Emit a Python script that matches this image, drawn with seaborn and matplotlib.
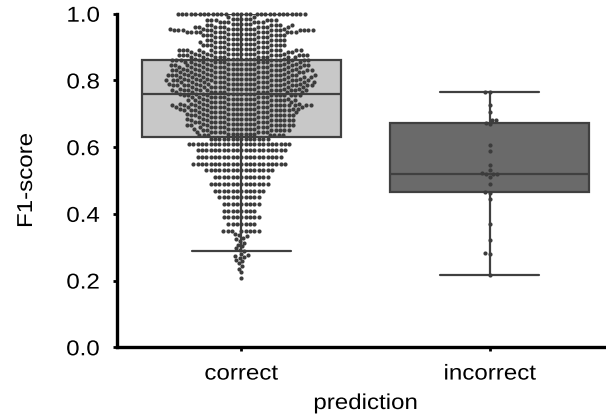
import numpy as np
import pandas as pd
import matplotlib
matplotlib.use("Agg")
import matplotlib.pyplot as plt
from matplotlib.ticker import FormatStrFormatter
from matplotlib.patheffects import AbstractPathEffect
from matplotlib.transforms import Affine2D
import seaborn as sns

# Prediction outcome groups
categories = ["correct", "incorrect"]

# Sparse low tail of the correctly predicted items' F1-scores
correct_tail_f1 = [
    0.207, 0.226, 0.236, 0.244, 0.252, 0.258, 0.262, 0.268, 0.271, 0.274,
    0.278, 0.280, 0.288, 0.292, 0.297, 0.303, 0.308, 0.314, 0.319, 0.324,
    0.329, 0.333, 0.337, 0.341,
]

# Lower body of the correct group: recurring F1 values and how often each occurs
correct_low_levels = [
    0.35, 0.37, 0.39, 0.41, 0.43, 0.45, 0.47, 0.49,
    0.51, 0.53, 0.55, 0.57, 0.59, 0.61, 0.625,
]
correct_low_counts = [
    8, 7, 9, 8, 9, 10, 12, 14,
    13, 16, 22, 20, 21, 24, 14,
]

# Upper body of the correct group: F1 level and number of items at it
correct_f1_levels = [
    0.635, 0.640,
    0.645, 0.650, 0.655, 0.660, 0.665, 0.670, 0.675, 0.680, 0.685, 0.690,
    0.695, 0.700, 0.705, 0.710, 0.715, 0.720, 0.725, 0.730, 0.735, 0.740,
    0.745, 0.750, 0.755, 0.760, 0.765, 0.770, 0.775, 0.780, 0.785, 0.790,
    0.795, 0.800, 0.805, 0.810, 0.815, 0.820, 0.825, 0.830, 0.835, 0.840,
    0.845, 0.850, 0.855, 0.860, 0.865, 0.870, 0.875, 0.880, 0.885, 0.890,
    0.895, 0.900, 0.905, 0.910, 0.915, 0.920, 0.925, 0.930, 0.935, 0.940,
    0.945, 0.950, 0.955, 0.960, 0.965, 0.970, 0.975, 0.980, 0.985, 0.990,
    1.000,
]
correct_counts = [
    7, 7,
    8, 7, 8, 8, 9, 8, 9, 8, 9, 8,
    9, 9, 9, 9, 11, 11, 12, 11, 9, 8,
    9, 9, 10, 10, 11, 11, 11, 11, 12, 12,
    12, 12, 12, 12, 12, 11, 12, 11, 12, 11,
    11, 11, 11, 11, 10, 10, 11, 10, 10, 10,
    7, 6, 7, 7, 7, 6, 7, 6, 7, 7,
    13, 12, 10, 9, 6, 5, 6, 6, 5, 2,
    29,
]

# F1-scores of incorrectly predicted items
incorrect_f1 = [
    0.766, 0.764, 0.727, 0.706, 0.680, 0.680, 0.672, 0.669, 0.606, 0.589,
    0.547, 0.532, 0.521, 0.520, 0.519, 0.518, 0.511, 0.490, 0.466, 0.464,
    0.445, 0.369, 0.321, 0.283, 0.281, 0.217,
]

box_colors = ["#c8c8c8", "#6a6a6a"]


class WideText(AbstractPathEffect):
    """Draw text glyphs widened along the baseline about a chosen anchor."""

    def __init__(self, factor, anchor="center"):
        super().__init__()
        self.factor = factor
        self.anchor = anchor

    def draw_path(self, renderer, gc, tpath, affine, rgbFace=None):
        ext = tpath.get_extents()
        if self.anchor == "right":
            cx = ext.x1
        elif self.anchor == "left":
            cx = ext.x0
        else:
            cx = 0.5 * (ext.x0 + ext.x1)
        widen = Affine2D().translate(-cx, 0).scale(self.factor, 1).translate(cx, 0)
        renderer.draw_path(gc, tpath, widen + affine, rgbFace)


sns.set_theme(style="ticks")
plt.rcParams["font.family"] = ["Liberation Sans", "DejaVu Sans"]

correct_values = np.concatenate([
    correct_tail_f1,
    np.repeat(correct_low_levels, correct_low_counts),
    np.repeat(correct_f1_levels, correct_counts),
])
df = pd.DataFrame({
    "prediction": [categories[0]] * len(correct_values) + [categories[1]] * len(incorrect_f1),
    "F1-score": np.concatenate([correct_values, incorrect_f1]),
})

fig = plt.figure(figsize=(6.06, 4.17), dpi=100)
ax = fig.add_axes([117 / 606, 69.7 / 417, 497 / 606, 333.6 / 417])

sns.boxplot(
    data=df, x="prediction", y="F1-score", order=categories,
    hue="prediction", hue_order=categories, palette=box_colors,
    showfliers=False, width=0.8, linecolor="#404040", linewidth=1.6,
    legend=False, ax=ax,
)
sns.swarmplot(
    data=df, x="prediction", y="F1-score", order=categories,
    color="#3c3c3c", size=3.0, ax=ax, clip_on=False,
)

ax.set_xlim(-0.5, 1.5)
ax.set_ylim(0, 1.0)
ax.set_yticks([0.0, 0.2, 0.4, 0.6, 0.8, 1.0])
ax.yaxis.set_major_formatter(FormatStrFormatter("%.1f"))

sns.despine(ax=ax)
for side in ("left", "bottom"):
    ax.spines[side].set_linewidth(2.4)
    ax.spines[side].set_color("black")

ax.tick_params(axis="both", length=2.7, width=2, color="black",
               labelsize=15.5, labelcolor="black")
ax.tick_params(axis="y", pad=9.6)
ax.tick_params(axis="x", pad=9.0)
ax.set_xlabel("prediction", fontsize=15.5, color="black")
ax.set_ylabel("F1-score", fontsize=15.5, color="black")
ax.xaxis.set_label_coords(0.5, -0.137)
ax.yaxis.set_label_coords(-0.161, 0.5)

for lbl in ax.get_yticklabels():
    lbl.set_path_effects([WideText(1.12, "right")])
for lbl in ax.get_xticklabels():
    lbl.set_path_effects([WideText(1.12, "center")])
ax.xaxis.label.set_path_effects([WideText(1.12, "center")])
ax.yaxis.label.set_path_effects([WideText(1.12, "center")])

fig.savefig("out.png", dpi=100)
